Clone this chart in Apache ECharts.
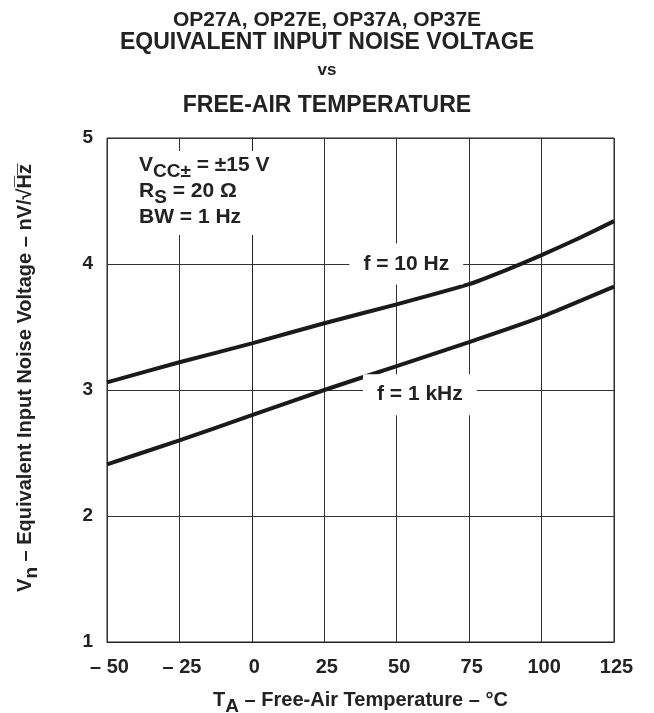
<!DOCTYPE html>
<html><head><meta charset="utf-8">
<script src="https://cdn.jsdelivr.net/npm/echarts@6/dist/echarts.min.js"></script>
<style>html,body{margin:0;padding:0;background:#fff;overflow:hidden}#c{width:654px;height:713px}</style>
</head><body><div id="c"></div>
<script>
// Data
const tempsHz10 = [-50, -25, 0, 25, 50, 75, 87.5, 100, 112.5, 125];
const noiseHz10 = [3.06, 3.22, 3.37, 3.53, 3.68, 3.84, 3.95, 4.07, 4.20, 4.34];
const tempsKHz1 = [-50, -25, 0, 25, 50, 75, 100, 125];
const noiseKHz1 = [2.41, 2.60, 2.80, 3.00, 3.19, 3.38, 3.58, 3.82];
const xTicks = [-50, -25, 0, 25, 50, 75, 100, 125];
const yTicks = [1, 2, 3, 4, 5];
const titleLines = ['OP27A, OP27E, OP37A, OP37E', 'EQUIVALENT INPUT NOISE VOLTAGE', 'vs', 'FREE-AIR TEMPERATURE'];
const curveLabels = [{text: 'f = 10 Hz', x: 53.3, y: 4.0}, {text: 'f = 1 kHz', x: 58, y: 2.963}];

const FONT = '"Liberation Sans", Arial, sans-serif';
const INK = '#222';
const chart = echarts.init(document.getElementById('c'), null, {width: 654, height: 713});
const zip = (a, b) => a.map((v, i) => [v, b[i]]);
const tstyle = fs => ({fontFamily: FONT, fontWeight: 'bold', fontSize: fs, color: INK});

const option = {
  animation: false,
  backgroundColor: '#fff',
  textStyle: {fontFamily: FONT},
  title: [
    {text: titleLines[0], left: 'center', top: 10, padding: 0, textStyle: tstyle(21)},
    {text: titleLines[1], left: 'center', top: 31, padding: 0, textStyle: tstyle(23)},
    {text: titleLines[2], left: 'center', top: 62, padding: 0, textStyle: tstyle(17)},
    {text: titleLines[3], left: 'center', top: 94, padding: 0, textStyle: tstyle(23)},
    {
      text: '{n|V}{s|CC±}{n| = ±15 V}\n{n|R}{s|S}{n| = 20 Ω}\n{n|BW = 1 Hz}',
      left: 131, top: 146,
      backgroundColor: '#fff',
      padding: [4, 8, 7, 8],
      textStyle: {
        ...tstyle(21),
        rich: {
          n: {...tstyle(21), lineHeight: 26, verticalAlign: 'bottom'},
          s: {...tstyle(19), lineHeight: 26, verticalAlign: 'bottom', padding: [0, 0, -5, 0]}
        }
      }
    }
  ],
  grid: {left: 107, width: 507, top: 138, height: 504, show: true, borderColor: INK, borderWidth: 1,
         containLabel: false, outerBoundsMode: 'none'},
  xAxis: {
    type: 'value', min: -50, max: 125, interval: 25,
    axisLine: {show: true, lineStyle: {color: INK, width: 1}},
    axisTick: {show: false},
    splitLine: {show: true, lineStyle: {color: '#333', width: 1}},
    axisLabel: {
      margin: 15, ...tstyle(20), padding: [0, 0, 0, 5],
      formatter: v => xTicks.includes(v) ? (v < 0 ? '– ' + Math.abs(v) : String(v)) : ''
    },
    name: '{n|T}{s|A}{n| – Free-Air Temperature – °C}',
    nameLocation: 'middle', nameGap: 44,
    nameTextStyle: {
      ...tstyle(20),
      rich: {
        n: {...tstyle(20), lineHeight: 24, verticalAlign: 'bottom'},
        s: {...tstyle(19), lineHeight: 24, verticalAlign: 'bottom', padding: [0, 0, -6, 0]}
      }
    }
  },
  yAxis: {
    type: 'value', min: 1, max: 5, interval: 1,
    axisLine: {show: true, lineStyle: {color: INK, width: 1}},
    axisTick: {show: false},
    splitLine: {show: true, lineStyle: {color: '#333', width: 1}},
    axisLabel: {
      margin: 14, ...tstyle(19),
      formatter: v => yTicks.includes(v) ? String(v) : ''
    },
    name: '{n|V}{s|n}{n| – Equivalent Input Noise Voltage – nV/√H\u0305z\u0305}',
    nameLocation: 'middle', nameGap: 72, nameRotate: 90,
    nameTextStyle: {
      ...tstyle(20),
      padding: [0, 0, 0, 24],
      rich: {
        n: {...tstyle(20), lineHeight: 24, verticalAlign: 'bottom'},
        s: {...tstyle(19), lineHeight: 24, verticalAlign: 'bottom', padding: [0, 0, -6, 0]}
      }
    }
  },
  series: [
    {name: 'f = 10 Hz', type: 'line', data: zip(tempsHz10, noiseHz10), showSymbol: false, smooth: 0.12,
     lineStyle: {color: '#1a1a1a', width: 4}, z: 3},
    {name: 'f = 1 kHz', type: 'line', data: zip(tempsKHz1, noiseKHz1), showSymbol: false, smooth: 0.12,
     lineStyle: {color: '#1a1a1a', width: 4}, z: 3}
  ]
};
chart.setOption(option);

const graphics = curveLabels.map(l => {
  const p = chart.convertToPixel({gridIndex: 0}, [l.x, l.y]);
  return {
    type: 'text', x: p[0], y: p[1], z: 10,
    style: {
      text: l.text, fill: INK, font: 'bold 21px ' + FONT,
      align: 'center', verticalAlign: 'middle',
      backgroundColor: '#fff', padding: [10, 14, 10, 14]
    }
  };
});
chart.setOption({graphic: graphics});
</script>
</body></html>
